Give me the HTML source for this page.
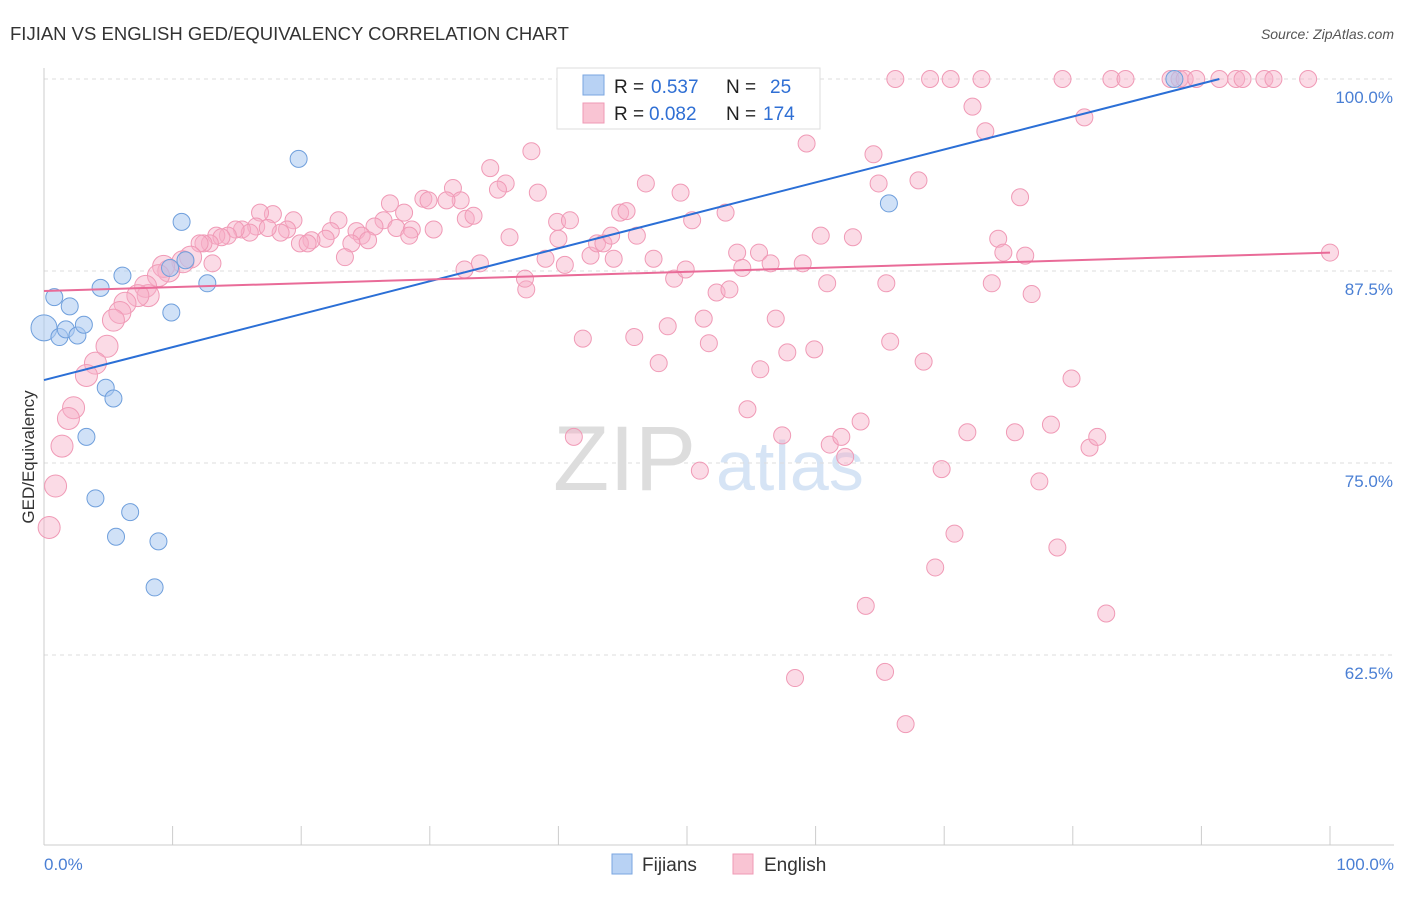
<!DOCTYPE html>
<html><head><meta charset="utf-8"><style>
body{margin:0;background:#fff;font-family:"Liberation Sans",sans-serif}
svg text{font-family:"Liberation Sans",sans-serif}
</style></head><body>
<svg id="chart" width="1406" height="892">
<text x="10" y="40" font-size="18.5" fill="#333">FIJIAN VS ENGLISH GED/EQUIVALENCY CORRELATION CHART</text>
<text x="1394" y="39" font-size="14" fill="#555" font-style="italic" text-anchor="end">Source: ZipAtlas.com</text>
<g>
<text x="553" y="490" font-size="92" font-family="Liberation Serif,serif" fill="#ddd">ZIP</text>
<text x="716" y="490" font-size="70" fill="#d6e4f5">atlas</text>
</g>
<g id="grid"></g>
<g id="axes"></g>
<g id="pts"></g>
<g id="lines"></g>
<text transform="translate(34,457) rotate(-90)" font-size="17" fill="#333" text-anchor="middle">GED/Equivalency</text>
<g>
<rect x="557" y="68" width="263" height="61" fill="#fff" stroke="#ddd"/>
<rect x="583" y="75" width="21" height="20" fill="#b8d2f4" stroke="#7aa6e0"/>
<rect x="583" y="103" width="21" height="20" fill="#f9c4d3" stroke="#ef9ab5"/>
<text x="614" y="93" font-size="19" fill="#222">R = </text><text x="651" y="93" font-size="19" fill="#2f6fd4">0.537</text>
<text x="726" y="93" font-size="19" fill="#222">N = </text><text x="770" y="93" font-size="19" fill="#2f6fd4">25</text>
<text x="614" y="120" font-size="19" fill="#222">R = </text><text x="649" y="120" font-size="19" fill="#2f6fd4">0.082</text>
<text x="726" y="120" font-size="19" fill="#222">N = </text><text x="763" y="120" font-size="19" fill="#2f6fd4">174</text>
</g>
<g>
<rect x="612" y="854" width="20" height="20" fill="#b8d2f4" stroke="#7aa6e0"/>
<text x="642" y="871" font-size="19" fill="#333">Fijians</text>
<rect x="733" y="854" width="20" height="20" fill="#f9c4d3" stroke="#ef9ab5"/>
<text x="764" y="871" font-size="19" fill="#333">English</text>
</g>
</svg>
<script>
const yTicks=[100,87.5,75,62.5];
const yTickLabels=["100.0%","87.5%","75.0%","62.5%"];
const xTickLabels=["0.0%","100.0%"];
const fijX=[0,0.8,2.0,1.2,1.7,2.6,3.1,4.4,6.1,9.8,11.0,10.7,12.7,9.9,19.8,4.8,5.4,3.3,4.0,6.7,5.6,8.9,8.6,65.7,87.9];
const fijY=[83.8,85.8,85.2,83.2,83.7,83.3,84.0,86.4,87.2,87.7,88.2,90.7,86.7,84.8,94.8,79.9,79.2,76.7,72.7,71.8,70.2,69.9,66.9,91.9,100];
const engX=[66.2,68.9,70.5,72.9,79.2,83.0,84.1,87.6,88.3,88.7,89.6,91.4,92.7,93.2,94.9,95.6,98.3,72.2,73.2,80.9,59.3,64.5,64.9,68.0,75.9,37.9,34.7,35.9,35.3,38.4,46.8,49.5,31.8,32.4,29.5,31.3,29.9,26.9,28.0,32.8,33.4,26.4,25.7,27.4,28.6,28.4,30.3,22.9,22.3,24.3,24.7,25.2,23.9,23.4,21.9,20.8,19.9,20.5,19.4,18.9,18.4,17.8,16.8,16.5,17.4,15.4,16.0,14.9,14.3,13.4,13.8,12.9,12.4,12.1,11.4,10.8,9.7,9.3,8.9,7.9,8.1,7.3,6.3,5.9,5.4,4.9,4.0,3.3,2.3,1.9,1.4,0.9,0.4,32.7,33.9,37.5,37.4,36.2,40.0,39.9,40.9,39.0,40.5,41.9,41.2,42.5,43.0,43.5,44.3,44.1,44.8,45.3,46.1,45.9,47.4,47.8,48.5,49.0,49.9,50.4,51.3,51.7,52.3,53.3,53.0,53.9,54.3,54.7,55.6,55.7,56.5,56.9,57.4,57.8,59.0,59.9,60.4,60.9,51.0,61.1,62.0,62.3,63.5,62.9,65.5,65.8,68.4,69.8,70.8,69.3,71.8,73.7,74.2,74.6,75.5,76.3,76.8,77.4,78.3,78.8,79.9,81.3,81.9,82.6,63.9,58.4,65.4,67.0,100,13.1];
const engY=[100,100,100,100,100,100,100,100,100,100,100,100,100,100,100,100,100,98.2,96.6,97.5,95.8,95.1,93.2,93.4,92.3,95.3,94.2,93.2,92.8,92.6,93.2,92.6,92.9,92.1,92.2,92.1,92.1,91.9,91.3,90.9,91.1,90.8,90.4,90.3,90.2,89.8,90.2,90.8,90.1,90.1,89.8,89.5,89.3,88.4,89.6,89.5,89.3,89.3,90.8,90.2,90.0,91.2,91.3,90.4,90.3,90.2,90.0,90.2,89.8,89.8,89.7,89.3,89.3,89.3,88.4,88.1,87.5,87.8,87.2,86.5,85.9,85.9,85.4,84.8,84.3,82.6,81.5,80.7,78.6,77.9,76.1,73.5,70.8,87.6,88.0,86.3,87.0,89.7,89.6,90.7,90.8,88.3,87.9,83.1,76.7,88.5,89.3,89.3,88.3,89.8,91.3,91.4,89.8,83.2,88.3,81.5,83.9,87.0,87.6,90.8,84.4,82.8,86.1,86.3,91.3,88.7,87.7,78.5,88.7,81.1,88.0,84.4,76.8,82.2,88.0,82.4,89.8,86.7,74.5,76.2,76.7,75.4,77.7,89.7,86.7,82.9,81.6,74.6,70.4,68.2,77.0,86.7,89.6,88.7,77.0,88.5,86.0,73.8,77.5,69.5,80.5,76.0,76.7,65.2,65.7,61.0,61.4,58.0,88.7,88.0];
const fijLine=[80.4,100,91.4];
const engLine=[86.2,88.7];
const NS='http://www.w3.org/2000/svg';
const X=v=>44+v*12.86, Y=v=>79+(100-v)*15.36;
function mk(t,a,p){const e=document.createElementNS(NS,t);for(const k in a)e.setAttribute(k,a[k]);p.appendChild(e);return e;}
const grid=document.getElementById('grid'),axes=document.getElementById('axes'),pts=document.getElementById('pts'),lines=document.getElementById('lines');
yTicks.forEach((t,i)=>{
 const g=mk('line',{x1:44,x2:1394,y1:Y(t),y2:Y(t),stroke:'#ddd','stroke-dasharray':'4,4'},grid);
 
 
 const l=mk('text',{x:1393,y:Y(t)+24,'font-size':17,fill:'#4a7fd4','text-anchor':'end'},axes);
 l.textContent=yTickLabels[i];
 
 
});
const ya=mk('line',{x1:44,x2:44,y1:68,y2:845,stroke:'#ccc'},axes);


const xa=mk('line',{x1:44,x2:1394,y1:845,y2:845,stroke:'#ccc'},axes);


for(let i=0;i<=10;i++){const t=mk('line',{x1:X(i*10),x2:X(i*10),y1:826,y2:845,stroke:'#ccc'},axes);
 
 }
[[0,'start',44],[100,'end',1394]].forEach((d,i)=>{const l=mk('text',{x:d[2],y:870,'font-size':17,fill:'#4a7fd4','text-anchor':d[1]},axes);l.textContent=xTickLabels[i];
 
 });
engX.forEach((x,i)=>{const r=x<12?11:8.5;const c=mk('circle',{cx:X(x),cy:Y(engY[i]),r:r,fill:'rgba(247,176,200,0.45)',stroke:'#f09ab6','stroke-width':1},pts);
 
 });
fijX.forEach((x,i)=>{const r=i==0?13:8.5;const c=mk('circle',{cx:X(x),cy:Y(fijY[i]),r:r,fill:'rgba(169,200,240,0.55)',stroke:'#6f9fdc','stroke-width':1},pts);
 
 });
const fl=mk('line',{x1:X(0),y1:Y(fijLine[0]),x2:X(fijLine[2]),y2:Y(fijLine[1]),stroke:'#2b6fd6','stroke-width':2},lines);


const el=mk('line',{x1:X(0),y1:Y(engLine[0]),x2:X(100),y2:Y(engLine[1]),stroke:'#e96b98','stroke-width':2},lines);


</script>
</body></html>
